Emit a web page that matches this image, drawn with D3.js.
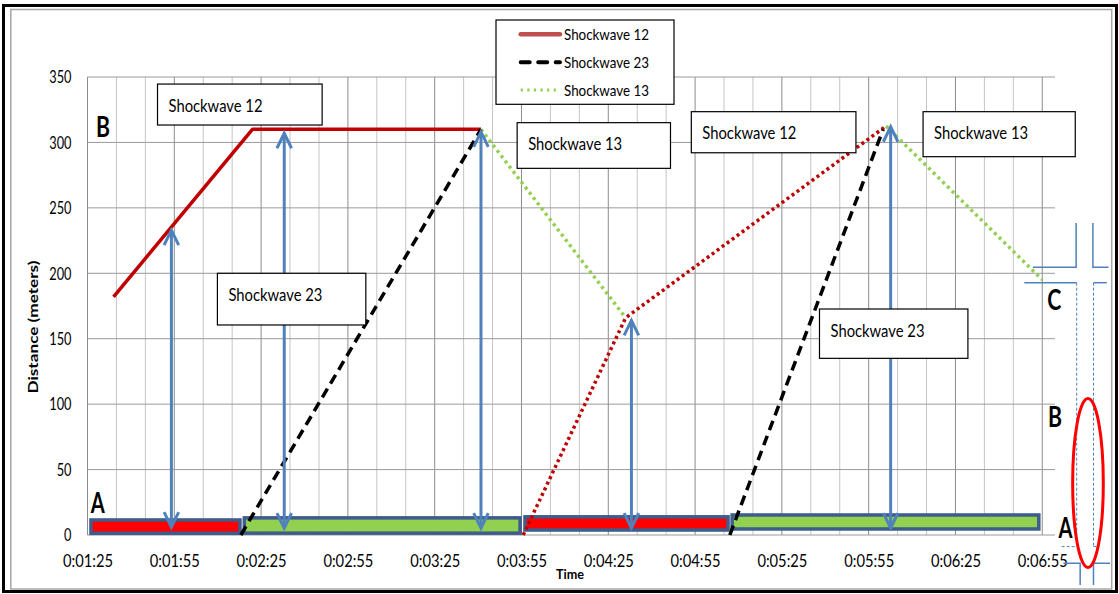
<!DOCTYPE html>
<html><head><meta charset="utf-8">
<script src="https://cdn.jsdelivr.net/npm/d3@7"></script>
<style>body{margin:0;background:#fff} svg{display:block}</style>
</head><body><svg id="c" width="1119" height="594"></svg>
<script>
// ---------- data ----------
const timeTickValues = [85,115,145,175,205,235,265,295,325,355,385,415];
const timeTickLabels = ["0:01:25","0:01:55","0:02:25","0:02:55","0:03:25","0:03:55","0:04:25","0:04:55","0:05:25","0:05:55","0:06:25","0:06:55"];
const distanceTicks = [0,50,100,150,200,250,300,350];
const seriesNames = ["Shockwave 12","Shockwave 23","Shockwave 13"];
const sw12Solid = [[94,182],[142,310],[221,310]];
const sw12Dotted = [[235.6,0],[271,166],[361,312.5]];
const sw23First = [[138,0],[221,310]];
const sw23Second = [[307,0],[360,310]];
const sw13First = [[221,310],[271,166]];
const sw13Second = [[361,312.5],[415,195]];
const arrowTimes = [114,153,221,273,362.6];
const arrowTops = [233,307,308,164,312];
const arrowBottoms = [6,5.3,5.3,5.3,5.3];
const segStart = [86.2,139.2,236.2,307.8];
const segEnd = [137.7,234.5,306.4,413.8];
const segLow = [1.3,1.4,3.8,4.6];
const segHigh = [11.5,13.1,13.9,15.3];
const segKind = ["red","green","red","green"];
const boxLabels = ["Shockwave 12","Shockwave 23","Shockwave 13","Shockwave 12","Shockwave 13","Shockwave 23"];
const boxT0 = [109.2,129.9,233.5,293.7,373.8,338];
const boxT1 = [166.1,181.2,286.5,350.6,426.4,389.3];
const boxVTop = [344.6,200,315.1,323.5,323.5,172.7];
const boxVBottom = [313.3,160.5,280.2,292.1,289.1,135];
const letterText = ["B","A","C","B","A"];
const letterT = [90.4,88.5,419.1,419.4,423];
const letterV = [304,16.8,172,82.5,-2.3];
// side schematic (time, distance units)
const sideSolid = [
  [[411.8,204.6],[426.7,204.6],[426.7,238.4]],
  [[432.5,238.4],[432.5,204.6],[437.9,204.6]],
  [[408.8,192.8],[426.9,192.8]],
  [[432.7,192.8],[437.3,192.8]],
  [[422.3,-21.6],[428.1,-21.6],[428.1,-38.2]],
  [[432.7,-38.2],[432.7,-21.6],[438.4,-21.6]]
];
const sideDashed = [
  [[426.9,192.8],[426.9,-8.9]],
  [[432.7,192.8],[432.7,-8.9]],
  [[421.7,-8.9],[426.9,-8.9]],
  [[432.7,-8.9],[434.7,-8.9]]
];
const ellipseCenter = [430.8,39.7];
const ellipseRadii = [5.3,64.6];

// ---------- drawing ----------
const svg = d3.select("#c");
const W = 1119, H = 594;
const x = d3.scaleLinear().domain([85,419.4]).range([87.5,1055]);
const y = d3.scaleLinear().domain([0,350]).range([535,77]);
const FONT = "Lato, 'Open Sans', sans-serif";

// frame
svg.append("rect").attr("x",3.5).attr("y",5.5).attr("width",1113).attr("height",586)
  .attr("fill","#fff").attr("stroke","#000").attr("stroke-width",3);
svg.append("rect").attr("x",10.8).attr("y",9.5).attr("width",1100.9).attr("height",579.5)
  .attr("fill","none").attr("stroke","#a6a6a6").attr("stroke-width",1.5);

// gridlines
const minor = d3.range(85,416,10);
svg.append("g").selectAll("line").data(minor).join("line")
  .attr("x1",d=>x(d)).attr("x2",d=>x(d)).attr("y1",y(350)).attr("y2",y(0))
  .attr("stroke",d=>((d-85)%30===0)?"#8c8c8c":"#c4c4c4").attr("stroke-width",1);
svg.append("g").selectAll("line").data(distanceTicks).join("line")
  .attr("x1",x(85)).attr("x2",x(419.4)).attr("y1",d=>y(d)).attr("y2",d=>y(d))
  .attr("stroke","#9a9a9a").attr("stroke-width",1);

// axes
const xAxis = d3.axisBottom(x).tickValues(timeTickValues)
  .tickFormat((d,i)=>timeTickLabels[i]).tickSize(0).tickPadding(19);
const gx = svg.append("g").attr("transform",`translate(0,${y(0)})`).call(xAxis);
gx.select(".domain").remove();
gx.selectAll("text").attr("font-family",FONT).attr("font-size",18).attr("fill","#000")
  .attr("textLength",50).attr("lengthAdjust","spacingAndGlyphs");
const yAxis = d3.axisLeft(y).tickValues(distanceTicks).tickSize(0).tickPadding(16);
const gy = svg.append("g").attr("transform",`translate(${x(85)},0)`).call(yAxis);
gy.select(".domain").remove();
gy.selectAll("text").attr("font-family",FONT).attr("font-size",18).attr("fill","#000")
  .attr("textLength",d=>String(d).length*7.4).attr("lengthAdjust","spacingAndGlyphs");

svg.append("text").attr("x",570).attr("y",579).attr("text-anchor","middle")
  .attr("font-family",FONT).attr("font-weight","bold").attr("font-size",14)
  .attr("textLength",28).attr("lengthAdjust","spacingAndGlyphs").text("Time");
svg.append("text").attr("transform","translate(38,327) rotate(-90)").attr("text-anchor","middle")
  .attr("font-family",FONT).attr("font-weight","bold").attr("font-size",14)
  .attr("textLength",133).attr("lengthAdjust","spacingAndGlyphs").text("Distance (meters)");

// bottom segments
const segs = segStart.map((s,i)=>({s,e:segEnd[i],lo:segLow[i],hi:segHigh[i],k:segKind[i]}));
svg.append("g").selectAll("rect").data(segs).join("rect")
  .attr("x",d=>x(d.s)).attr("width",d=>x(d.e)-x(d.s))
  .attr("y",d=>y(d.hi)).attr("height",d=>y(d.lo)-y(d.hi))
  .attr("fill",d=>d.k==="red"?"#ff0000":"#92d050")
  .attr("stroke","#3e5c8c").attr("stroke-width",3.5);

// lines
const line = d3.line().x(d=>x(d[0])).y(d=>y(d[1]));
function drawLine(data,color,dash,width,cap){
  svg.append("path").attr("d",line(data)).attr("fill","none")
    .attr("stroke",color).attr("stroke-width",width)
    .attr("stroke-dasharray",dash).attr("stroke-linecap",cap||"butt")
    .attr("stroke-linejoin","round");
}
drawLine(sw13First,"#92d050","3,3.6",3.5);
drawLine(sw13Second,"#92d050","3,3.6",3.5);
drawLine(sw12Solid,"#c00000",null,3.5);
drawLine(sw12Dotted,"#c00000","3,3.2",3.5);
drawLine(sw23First,"#000","10,6",3.5);
drawLine(sw23Second,"#000","10,6",3.5);

// arrows
const arrows = arrowTimes.map((t,i)=>({t,top:arrowTops[i],bot:arrowBottoms[i]}));
const ag = svg.append("g").attr("stroke","#4f81bd").attr("stroke-width",3).attr("fill","none");
arrows.forEach(a=>{
  const ax=x(a.t), yt=y(a.top), yb=y(a.bot);
  ag.append("line").attr("x1",ax).attr("x2",ax).attr("y1",yt+1).attr("y2",yb-1);
  ag.append("path").attr("d",`M${ax-7.3},${yt+15}L${ax},${yt}L${ax+7.3},${yt+15}`);
  ag.append("path").attr("d",`M${ax-7.3},${yb-15}L${ax},${yb}L${ax+7.3},${yb-15}`);
});

// label boxes
boxLabels.forEach((lab,i)=>{
  const x0=x(boxT0[i]), x1=x(boxT1[i]), y0=y(boxVTop[i]), y1=y(boxVBottom[i]);
  svg.append("rect").attr("x",x0).attr("y",y0).attr("width",x1-x0).attr("height",y1-y0)
    .attr("fill","#fff").attr("stroke","#000").attr("stroke-width",1.2);
  svg.append("text").attr("x",x0+11).attr("y",y0+27.5).attr("font-family",FONT)
    .attr("font-size",18).attr("textLength",94).attr("lengthAdjust","spacingAndGlyphs").text(lab);
});

// legend
const lg = svg.append("g");
lg.append("rect").attr("x",496).attr("y",20).attr("width",178).attr("height",84.3)
  .attr("fill","#fff").attr("stroke","#000").attr("stroke-width",1.2);
const legStyles = [
  {c:"#c0504d",d:null,w:4.5,cap:"round"},
  {c:"#000",d:"9,8.5",w:4,cap:"round"},
  {c:"#92d050",d:"2.2,4.4",w:3,cap:"butt"}
];
seriesNames.forEach((n,i)=>{
  const ly = 34.3+i*27.9;
  lg.append("line").attr("x1",520.7).attr("x2",560).attr("y1",ly).attr("y2",ly)
    .attr("stroke",legStyles[i].c).attr("stroke-width",legStyles[i].w)
    .attr("stroke-dasharray",legStyles[i].d).attr("stroke-linecap",legStyles[i].cap);
  lg.append("text").attr("x",564).attr("y",ly+5.8).attr("font-family",FONT).attr("font-size",16)
    .attr("textLength",85).attr("lengthAdjust","spacingAndGlyphs").text(n);
});

// letters
letterText.forEach((l,i)=>{
  svg.append("text").attr("x",x(letterT[i])).attr("y",y(letterV[i])).attr("text-anchor","middle")
    .attr("font-family",FONT).attr("font-weight","bold").attr("font-size",28)
    .attr("textLength",14).attr("lengthAdjust","spacingAndGlyphs").text(l);
});

// side schematic
const sg = svg.append("g").attr("fill","none").attr("stroke","#4f81bd");
sideSolid.forEach(p=>sg.append("path").attr("d",line(p)).attr("stroke-width",1.5));
sideDashed.forEach(p=>sg.append("path").attr("d",line(p)).attr("stroke-width",1).attr("stroke-dasharray","3,2"));
svg.append("ellipse").attr("cx",x(ellipseCenter[0])).attr("cy",y(ellipseCenter[1]))
  .attr("rx",x(ellipseCenter[0]+ellipseRadii[0])-x(ellipseCenter[0]))
  .attr("ry",y(0)-y(ellipseRadii[1]))
  .attr("fill","none").attr("stroke","#ff0000").attr("stroke-width",3);
</script></body></html>
